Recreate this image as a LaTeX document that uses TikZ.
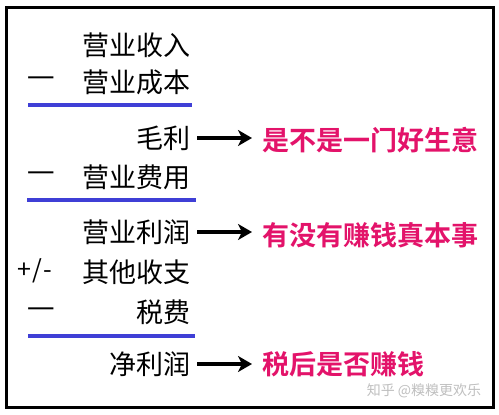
\documentclass[tikz,border=0pt]{standalone}
\usepackage{fontspec}
\newfontfamily\cjk{Noto Sans CJK SC}
\newfontfamily\cjkb{Noto Sans CJK SC Bold}
\newfontfamily\dejavu{DejaVu Sans}
\usetikzlibrary{arrows.meta}
\definecolor{lineblue}{HTML}{3F3FD6}
\definecolor{redtxt}{HTML}{E3136A}
\tikzset{
  item/.style={anchor=east, inner sep=0pt, font=\cjk\fontsize{27}{27}\selectfont},
  sign/.style={anchor=center, inner sep=0pt, font=\dejavu\fontsize{28}{28}\selectfont},
  note/.style={anchor=west, inner sep=0pt, text=redtxt, font=\cjkb\fontsize{27}{27}\selectfont},
  sumline/.style={draw=lineblue, line width=3.4pt},
  arr/.style={-{Stealth[length=14pt,width=16pt,inset=4pt]}, line width=3.4pt},
  frame/.style={draw=black, line width=3pt}
}
\begin{document}
\begin{tikzpicture}[x=1pt,y=-1pt]
\useasboundingbox (0,0) rectangle (499,415);
\fill[white] (0,0) rectangle (499,415);
\draw[frame] (6.5,7) rectangle (493,407);
% rows
\node[item] (r1) at (191,45) {营业收入};
\node[item] (r2) at (191,82) {营业成本};
\node[sign] (s2) at (41,81) {—};
\draw[sumline] (28,105) -- (192,105);
\node[item] (r3) at (191,138) {毛利};
\node[item] (r4) at (191,177) {营业费用};
\node[sign] (s4) at (41,176) {—};
\draw[sumline] (27,200) -- (196,200);
\node[item] (r5) at (191,232) {营业利润};
\node[item] (r6) at (191,272) {其他收支};
\node[anchor=center, inner sep=0pt, font=\cjk\fontsize{25}{25}\selectfont] (s6) at (35,271) {+\kern1pt/\kern1pt-};
\node[item] (r7) at (191,312) {税费};
\node[sign] (s7) at (41,312) {—};
\draw[sumline] (28,336) -- (195,336);
\node[item] (r8) at (191,364) {净利润};
% notes
\node[note] (n1) at (262,140) {是不是一门好生意};
\node[note] (n2) at (262,235) {有没有赚钱真本事};
\node[note] (n3) at (262,364) {税后是否赚钱};
\draw[arr] ([xshift=6pt]r3.east) -- ([xshift=-10pt]r3.east -| n1.west);
\draw[arr] ([xshift=6pt]r5.east) -- ([xshift=-10pt]r5.east -| n2.west);
\draw[arr] ([xshift=6pt]r8.east) -- ([xshift=-10pt]r8.east -| n3.west);
\node[anchor=center, inner sep=0pt, text=black!25, font=\cjk\fontsize{14}{14}\selectfont] (wm) at (424,391) {知乎 @糗糗更欢乐};
\end{tikzpicture}
\end{document}
